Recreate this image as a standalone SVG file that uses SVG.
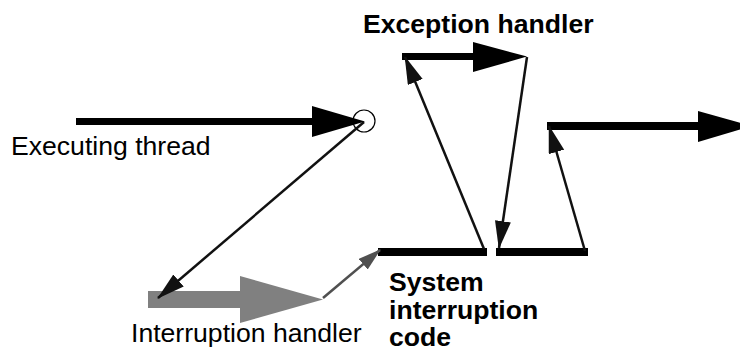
<svg xmlns="http://www.w3.org/2000/svg" width="740" height="349" viewBox="0 0 740 349">
  <style>
    .lbl { font-family: "Liberation Sans", Arial, sans-serif; font-size: 26.6px; fill: #000; }
    .bold { font-weight: bold; }
    .thin { stroke: #111; stroke-width: 2.5; fill: none; }
    .thin-gray { stroke: #505050; stroke-width: 2.5; fill: none; }
    .bar { fill: #000; }
  </style>
  <defs>
    <marker id="head" markerUnits="userSpaceOnUse" markerWidth="30" markerHeight="18" refX="27" refY="8" orient="auto">
      <path d="M0,0 L28,8 L0,16 Z" fill="#111"/>
    </marker>
    <marker id="head-gray" markerUnits="userSpaceOnUse" markerWidth="26" markerHeight="16" refX="22" refY="7" orient="auto">
      <path d="M0,0 L23,7 L0,14 Z" fill="#505050"/>
    </marker>
  </defs>

  <!-- main thread of execution -->
  <g id="executing-thread">
    <rect class="bar" x="76" y="118" width="238" height="7"/>
    <polygon class="bar" points="312,106 365,121.5 312,137"/>
    <circle cx="364" cy="121" r="11" fill="none" stroke="#000" stroke-width="1.2"/>
    <text class="lbl" x="11" y="155">Executing thread</text>
  </g>

  <!-- interruption handler (gray) -->
  <g id="interruption-handler">
    <rect x="148" y="291" width="94" height="17" fill="#808080"/>
    <polygon points="240,276 323,299.5 240,323" fill="#808080"/>
    <text class="lbl" x="131" y="342">Interruption handler</text>
  </g>

  <!-- system interruption code -->
  <g id="system-code">
    <rect class="bar" x="378" y="248" width="109" height="8"/>
    <rect class="bar" x="496" y="248" width="92" height="8"/>
    <text class="lbl bold" x="389" y="291">System</text>
    <text class="lbl bold" x="389" y="318.5">interruption</text>
    <text class="lbl bold" x="389" y="346">code</text>
  </g>

  <!-- exception handler -->
  <g id="exception-handler">
    <rect class="bar" x="402" y="53" width="73" height="7"/>
    <polygon class="bar" points="473,42 527,56.5 473,72"/>
    <text class="lbl bold" x="363" y="33">Exception handler</text>
  </g>

  <!-- resumed thread -->
  <g id="resumed-thread">
    <rect class="bar" x="547" y="122" width="153" height="8"/>
    <polygon class="bar" points="698,111 752,126 698,142"/>
  </g>

  <!-- connectors -->
  <g id="connectors">
    <line class="thin" x1="364" y1="122" x2="158" y2="298" marker-end="url(#head)"/>
    <line class="thin-gray" x1="323" y1="298" x2="380" y2="250" marker-end="url(#head-gray)"/>
    <line class="thin" x1="484" y1="249" x2="405" y2="57" marker-end="url(#head)"/>
    <line class="thin" x1="527" y1="57" x2="499" y2="248" marker-end="url(#head)"/>
    <line class="thin" x1="585" y1="251" x2="549" y2="126" marker-end="url(#head)"/>
  </g>
</svg>
